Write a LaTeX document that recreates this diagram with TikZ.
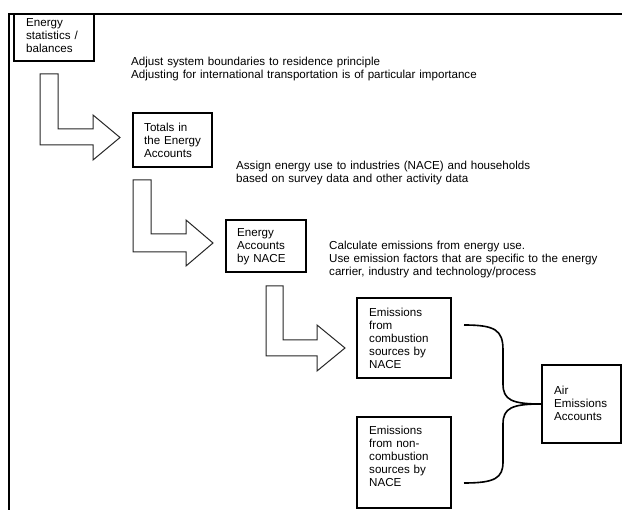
\documentclass[tikz,border=0pt]{standalone}
\usepackage{fontspec}
\setmainfont{Liberation Sans}
\begin{document}
\begin{tikzpicture}[x=1pt,y=-1pt,
  box/.style={draw=black,line width=1.4pt,inner sep=0pt,fill=none},
  txt/.style={anchor=base west,inner sep=0pt,align=left,text width=120pt,
    font=\fontsize{11.6}{13}\selectfont},
  bigarrow/.style={draw=black!85,line width=1pt,fill=white,line join=miter},
  frame/.style={line width=2pt}]
\useasboundingbox (0,0) rectangle (622,510);
% frame
\draw[frame] (8,14) -- (622,14);
\draw[frame] (9,14) -- (9,510);
% boxes
\draw[box] (14,14) rectangle (94,61);
\node[inner sep=0pt] (b1) at (54,37.5) {};
\draw[box] (133,113) rectangle (212,167);
\node[inner sep=0pt] (b2) at (172.5,140) {};
\draw[box] (226,220) rectangle (306,272);
\node[inner sep=0pt] (b3) at (266,246) {};
\draw[box] (357,298) rectangle (451,378);
\node[inner sep=0pt] (b4) at (404,338) {};
\draw[box] (357,417) rectangle (451,508);
\node[inner sep=0pt] (b5) at (404,462) {};
\draw[box] (542,365) rectangle (621,443);
\node[inner sep=0pt] (b6) at (542,404) {};
% box texts
\node[txt] (t1) at (26,26.5) {Energy\\statistics /\\balances};
\node[txt] (t2) at (144,131.5) {Totals in\\the Energy\\Accounts};
\node[txt] (t3) at (237,236.5) {Energy\\Accounts\\by NACE};
\node[txt] (t4) at (369,316.5) {Emissions\\from\\combustion\\sources by\\NACE};
\node[txt] (t5) at (369,434.5) {Emissions\\from non-\\combustion\\sources by\\NACE};
\node[txt] (t6) at (554,394.5) {Air\\Emissions\\Accounts};
% step texts
\node[txt,text width=400pt] (s1) at (131,65.5) {Adjust system boundaries to residence principle\\Adjusting for international transportation is of particular importance};
\node[txt,text width=330pt] (s2) at (236,170) {Assign energy use to industries (NACE) and households\\based on survey data and other activity data};
\node[txt,text width=290pt] (s3) at (329,250) {Calculate emissions from energy use.\\Use emission factors that are specific to the energy\\carrier, industry and technology/process};
% L-shaped block arrows
\draw[bigarrow] (40,74) -- (58,74) -- (58,129) -- (93,129) -- (93,115) -- (120,137.5) -- (93,160) -- (93,145) -- (40,145) -- cycle;
\draw[bigarrow] (133,180) -- (151,180) -- (151,234) -- (186,234) -- (186,220) -- (213,243) -- (186,266) -- (186,252) -- (133,252) -- cycle;
\draw[bigarrow] (266,286) -- (283,286) -- (283,340) -- (317,340) -- (317,325) -- (345,348) -- (317,371) -- (317,356) -- (266,356) -- cycle;
% brace
\coordinate (bt) at (464,325);
\coordinate (bb) at (464,483);
\draw[line width=1.6pt] (bt) .. controls (495,325) and (503,330) .. (503,350) -- (503,384)
  .. controls (503,400) and (512,404) .. (b6.west)
  .. controls (512,404) and (503,408) .. (503,424) -- (503,462)
  .. controls (503,478) and (495,483) .. (bb);
\end{tikzpicture}
\end{document}
